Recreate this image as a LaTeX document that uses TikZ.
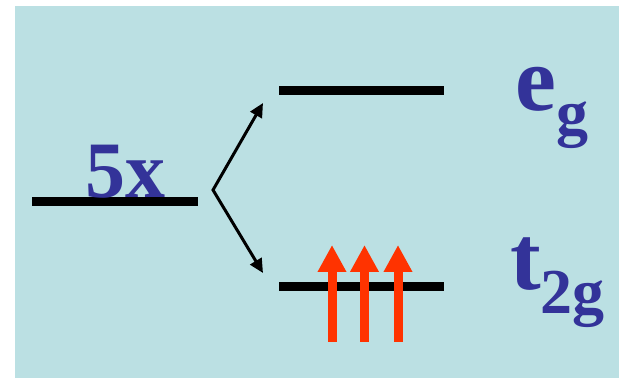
\documentclass[tikz,border=0pt]{standalone}
\usepackage{fontspec}
\setmainfont{Liberation Serif}
\usetikzlibrary{arrows.meta}
\definecolor{panel}{RGB}{187,224,227}
\definecolor{labelblue}{RGB}{51,51,153}
\definecolor{spinred}{RGB}{255,51,0}
\newcommand{\bigsize}{\fontsize{92}{92}\selectfont\bfseries}
\newcommand{\subsize}[1]{\raisebox{-24pt}{\fontsize{64}{64}\selectfont\bfseries #1}}

\begin{document}
\begin{tikzpicture}[x=1pt, y=-1pt,
  level/.style={fill=black, inner sep=0pt, minimum width=166pt, minimum height=9pt},
  lab/.style={text=labelblue, inner sep=0pt, font=\bigsize},
  split/.style={line width=3pt, {Triangle[length=14pt,width=13pt]}-{Triangle[length=14pt,width=13pt]}},
  spin/.style={draw=spinred, line width=9pt, -{Triangle[length=27pt,width=27pt]}},
]
\useasboundingbox (0,0) rectangle (619,382);
\fill[panel] (15,6) rectangle (619,378);

% levels
\node[level] (free) at (115,201.5) {};
\node[level, minimum width=165pt] (eg) at (361.5,91) {};
\node[level, minimum width=165pt] (t2g) at (361.5,286.5) {};

% labels
\node[lab, anchor=base, font=\fontsize{80}{80}\selectfont\bfseries] (five) at (125,197.5) {5x};
\node[lab, anchor=base west] (eglab) at (515,111) {e\subsize{g}};
\node[lab, anchor=base west] (t2glab) at (510,290) {t\subsize{2g}};

% splitting
\coordinate (fork) at (213,190);
\coordinate (upend) at (263,103);
\coordinate (downend) at (263,273);
\draw[split] (upend) -- (fork) -- (downend);

% electrons
\foreach \x [count=\i] in {332,364.5,398} {
  \coordinate (lo\i) at (\x,342);
  \coordinate (hi\i) at (\x,245);
  \draw[spin] (lo\i) -- (hi\i);
}

\end{tikzpicture}
\end{document}
